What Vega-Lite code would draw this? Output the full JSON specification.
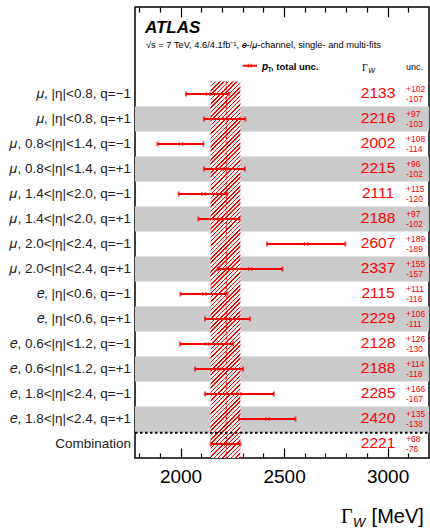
{
"$schema":"https://vega.github.io/schema/vega-lite/v6.json",
"width":294,"height":451,
"autosize":{"type":"none"},
"padding":{"left":135,"top":7,"right":1,"bottom":73},
"background":"white",
"config":{"view":{"stroke":"black","strokeWidth":1.5},"font":"Liberation Sans","axis":{"labelOverlap":false,"grid":false,"domain":false,"title":null,"tickColor":"black","tickWidth":1.2}},
"datasets":{
"rows":[
{"label":"𝜇, |η|<0.8, q=−1","row":1,"v":2133,"lo":2026,"hi":2235,"slo":2125,"shi":2141,"up":"+102","dn":"-107"},
{"label":"𝜇, |η|<0.8, q=+1","row":2,"v":2216,"lo":2113,"hi":2313,"slo":2208,"shi":2224,"up":"+97","dn":"-103"},
{"label":"𝜇, 0.8<|η|<1.4, q=−1","row":3,"v":2002,"lo":1888,"hi":2110,"slo":1994,"shi":2010,"up":"+108","dn":"-114"},
{"label":"𝜇, 0.8<|η|<1.4, q=+1","row":4,"v":2215,"lo":2113,"hi":2311,"slo":2207,"shi":2223,"up":"+96","dn":"-102"},
{"label":"𝜇, 1.4<|η|<2.0, q=−1","row":5,"v":2111,"lo":1991,"hi":2226,"slo":2103,"shi":2119,"up":"+115","dn":"-120"},
{"label":"𝜇, 1.4<|η|<2.0, q=+1","row":6,"v":2188,"lo":2086,"hi":2285,"slo":2180,"shi":2196,"up":"+97","dn":"-102"},
{"label":"𝜇, 2.0<|η|<2.4, q=−1","row":7,"v":2607,"lo":2418,"hi":2796,"slo":2599,"shi":2615,"up":"+189","dn":"-189"},
{"label":"𝜇, 2.0<|η|<2.4, q=+1","row":8,"v":2337,"lo":2180,"hi":2492,"slo":2329,"shi":2345,"up":"+155","dn":"-157"},
{"label":"𝑒, |η|<0.6, q=−1","row":9,"v":2115,"lo":1999,"hi":2226,"slo":2107,"shi":2123,"up":"+111","dn":"-116"},
{"label":"𝑒, |η|<0.6, q=+1","row":10,"v":2229,"lo":2118,"hi":2335,"slo":2221,"shi":2237,"up":"+106","dn":"-111"},
{"label":"𝑒, 0.6<|η|<1.2, q=−1","row":11,"v":2128,"lo":1998,"hi":2254,"slo":2120,"shi":2136,"up":"+126","dn":"-130"},
{"label":"𝑒, 0.6<|η|<1.2, q=+1","row":12,"v":2188,"lo":2070,"hi":2302,"slo":2180,"shi":2196,"up":"+114","dn":"-118"},
{"label":"𝑒, 1.8<|η|<2.4, q=−1","row":13,"v":2285,"lo":2118,"hi":2451,"slo":2277,"shi":2293,"up":"+166","dn":"-167"},
{"label":"𝑒, 1.8<|η|<2.4, q=+1","row":14,"v":2420,"lo":2282,"hi":2555,"slo":2412,"shi":2428,"up":"+135","dn":"-138"},
{"label":"Combination","row":15,"v":2221,"lo":2145,"hi":2289,"slo":2213,"shi":2229,"up":"+68","dn":"-76"}
],
"bands":[{"b0":1.5,"b1":2.5},{"b0":3.5,"b1":4.5},{"b0":5.5,"b1":6.5},{"b0":7.5,"b1":8.5},{"b0":9.5,"b1":10.5},{"b0":11.5,"b1":12.5},{"b0":13.5,"b1":14.55}]
},
"resolve":{"axis":{"x":"independent"}},
"layer":[
{"layer":[
{"data":{"name":"bands"},"mark":{"type":"rect","color":"#cacaca"},
 "encoding":{
  "x":{"datum":1780,"type":"quantitative","scale":{"domain":[1780,3200],"nice":false,"zero":false},"axis":null},
  "x2":{"datum":3200},
  "y":{"field":"b0","type":"quantitative","scale":{"domain":[-2.48,15.56],"reverse":true,"nice":false,"zero":false},"axis":null},
  "y2":{"field":"b1"}}},
{"data":{"values":[{}]},"mark":{"type":"rect","fill":{"gradient":"linear","x1":0,"y1":0,"x2":0.0849,"y2":1.0725,"stops":[
{"offset":0,"color":"#f00"},{"offset":0.0037,"color":"#f00"},{"offset":0.0037,"color":"#fff"},{"offset":0.0106,"color":"#fff"},
{"offset":0.0106,"color":"#f00"},{"offset":0.0143,"color":"#f00"},{"offset":0.0143,"color":"#fff"},{"offset":0.0212,"color":"#fff"},
{"offset":0.0212,"color":"#f00"},{"offset":0.0249,"color":"#f00"},{"offset":0.0249,"color":"#fff"},{"offset":0.0318,"color":"#fff"},
{"offset":0.0318,"color":"#f00"},{"offset":0.0355,"color":"#f00"},{"offset":0.0355,"color":"#fff"},{"offset":0.0424,"color":"#fff"},
{"offset":0.0424,"color":"#f00"},{"offset":0.0461,"color":"#f00"},{"offset":0.0461,"color":"#fff"},{"offset":0.053,"color":"#fff"},
{"offset":0.053,"color":"#f00"},{"offset":0.0567,"color":"#f00"},{"offset":0.0567,"color":"#fff"},{"offset":0.0636,"color":"#fff"},
{"offset":0.0636,"color":"#f00"},{"offset":0.0673,"color":"#f00"},{"offset":0.0673,"color":"#fff"},{"offset":0.0742,"color":"#fff"},
{"offset":0.0742,"color":"#f00"},{"offset":0.0779,"color":"#f00"},{"offset":0.0779,"color":"#fff"},{"offset":0.0848,"color":"#fff"},
{"offset":0.0848,"color":"#f00"},{"offset":0.0885,"color":"#f00"},{"offset":0.0885,"color":"#fff"},{"offset":0.0954,"color":"#fff"},
{"offset":0.0954,"color":"#f00"},{"offset":0.0991,"color":"#f00"},{"offset":0.0991,"color":"#fff"},{"offset":0.106,"color":"#fff"},
{"offset":0.106,"color":"#f00"},{"offset":0.1097,"color":"#f00"},{"offset":0.1097,"color":"#fff"},{"offset":0.1166,"color":"#fff"},
{"offset":0.1166,"color":"#f00"},{"offset":0.1203,"color":"#f00"},{"offset":0.1203,"color":"#fff"},{"offset":0.1272,"color":"#fff"},
{"offset":0.1272,"color":"#f00"},{"offset":0.1309,"color":"#f00"},{"offset":0.1309,"color":"#fff"},{"offset":0.1378,"color":"#fff"},
{"offset":0.1378,"color":"#f00"},{"offset":0.1415,"color":"#f00"},{"offset":0.1415,"color":"#fff"},{"offset":0.1484,"color":"#fff"},
{"offset":0.1484,"color":"#f00"},{"offset":0.1521,"color":"#f00"},{"offset":0.1521,"color":"#fff"},{"offset":0.159,"color":"#fff"},
{"offset":0.159,"color":"#f00"},{"offset":0.1627,"color":"#f00"},{"offset":0.1627,"color":"#fff"},{"offset":0.1696,"color":"#fff"},
{"offset":0.1696,"color":"#f00"},{"offset":0.1733,"color":"#f00"},{"offset":0.1733,"color":"#fff"},{"offset":0.1802,"color":"#fff"},
{"offset":0.1802,"color":"#f00"},{"offset":0.1839,"color":"#f00"},{"offset":0.1839,"color":"#fff"},{"offset":0.1908,"color":"#fff"},
{"offset":0.1908,"color":"#f00"},{"offset":0.1945,"color":"#f00"},{"offset":0.1945,"color":"#fff"},{"offset":0.2014,"color":"#fff"},
{"offset":0.2014,"color":"#f00"},{"offset":0.2051,"color":"#f00"},{"offset":0.2051,"color":"#fff"},{"offset":0.212,"color":"#fff"},
{"offset":0.212,"color":"#f00"},{"offset":0.2157,"color":"#f00"},{"offset":0.2157,"color":"#fff"},{"offset":0.2226,"color":"#fff"},
{"offset":0.2226,"color":"#f00"},{"offset":0.2263,"color":"#f00"},{"offset":0.2263,"color":"#fff"},{"offset":0.2332,"color":"#fff"},
{"offset":0.2332,"color":"#f00"},{"offset":0.2369,"color":"#f00"},{"offset":0.2369,"color":"#fff"},{"offset":0.2438,"color":"#fff"},
{"offset":0.2438,"color":"#f00"},{"offset":0.2475,"color":"#f00"},{"offset":0.2475,"color":"#fff"},{"offset":0.2544,"color":"#fff"},
{"offset":0.2544,"color":"#f00"},{"offset":0.2581,"color":"#f00"},{"offset":0.2581,"color":"#fff"},{"offset":0.265,"color":"#fff"},
{"offset":0.265,"color":"#f00"},{"offset":0.2687,"color":"#f00"},{"offset":0.2687,"color":"#fff"},{"offset":0.2756,"color":"#fff"},
{"offset":0.2756,"color":"#f00"},{"offset":0.2793,"color":"#f00"},{"offset":0.2793,"color":"#fff"},{"offset":0.2862,"color":"#fff"},
{"offset":0.2862,"color":"#f00"},{"offset":0.2899,"color":"#f00"},{"offset":0.2899,"color":"#fff"},{"offset":0.2968,"color":"#fff"},
{"offset":0.2968,"color":"#f00"},{"offset":0.3005,"color":"#f00"},{"offset":0.3005,"color":"#fff"},{"offset":0.3074,"color":"#fff"},
{"offset":0.3074,"color":"#f00"},{"offset":0.3111,"color":"#f00"},{"offset":0.3111,"color":"#fff"},{"offset":0.318,"color":"#fff"},
{"offset":0.318,"color":"#f00"},{"offset":0.3217,"color":"#f00"},{"offset":0.3217,"color":"#fff"},{"offset":0.3286,"color":"#fff"},
{"offset":0.3286,"color":"#f00"},{"offset":0.3323,"color":"#f00"},{"offset":0.3323,"color":"#fff"},{"offset":0.3392,"color":"#fff"},
{"offset":0.3392,"color":"#f00"},{"offset":0.3429,"color":"#f00"},{"offset":0.3429,"color":"#fff"},{"offset":0.3498,"color":"#fff"},
{"offset":0.3498,"color":"#f00"},{"offset":0.3535,"color":"#f00"},{"offset":0.3535,"color":"#fff"},{"offset":0.3604,"color":"#fff"},
{"offset":0.3604,"color":"#f00"},{"offset":0.3641,"color":"#f00"},{"offset":0.3641,"color":"#fff"},{"offset":0.371,"color":"#fff"},
{"offset":0.371,"color":"#f00"},{"offset":0.3747,"color":"#f00"},{"offset":0.3747,"color":"#fff"},{"offset":0.3816,"color":"#fff"},
{"offset":0.3816,"color":"#f00"},{"offset":0.3853,"color":"#f00"},{"offset":0.3853,"color":"#fff"},{"offset":0.3922,"color":"#fff"},
{"offset":0.3922,"color":"#f00"},{"offset":0.3959,"color":"#f00"},{"offset":0.3959,"color":"#fff"},{"offset":0.4028,"color":"#fff"},
{"offset":0.4028,"color":"#f00"},{"offset":0.4065,"color":"#f00"},{"offset":0.4065,"color":"#fff"},{"offset":0.4134,"color":"#fff"},
{"offset":0.4134,"color":"#f00"},{"offset":0.4171,"color":"#f00"},{"offset":0.4171,"color":"#fff"},{"offset":0.424,"color":"#fff"},
{"offset":0.424,"color":"#f00"},{"offset":0.4277,"color":"#f00"},{"offset":0.4277,"color":"#fff"},{"offset":0.4346,"color":"#fff"},
{"offset":0.4346,"color":"#f00"},{"offset":0.4383,"color":"#f00"},{"offset":0.4383,"color":"#fff"},{"offset":0.4452,"color":"#fff"},
{"offset":0.4452,"color":"#f00"},{"offset":0.4489,"color":"#f00"},{"offset":0.4489,"color":"#fff"},{"offset":0.4558,"color":"#fff"},
{"offset":0.4558,"color":"#f00"},{"offset":0.4595,"color":"#f00"},{"offset":0.4595,"color":"#fff"},{"offset":0.4664,"color":"#fff"},
{"offset":0.4664,"color":"#f00"},{"offset":0.4701,"color":"#f00"},{"offset":0.4701,"color":"#fff"},{"offset":0.477,"color":"#fff"},
{"offset":0.477,"color":"#f00"},{"offset":0.4807,"color":"#f00"},{"offset":0.4807,"color":"#fff"},{"offset":0.4876,"color":"#fff"},
{"offset":0.4876,"color":"#f00"},{"offset":0.4913,"color":"#f00"},{"offset":0.4913,"color":"#fff"},{"offset":0.4982,"color":"#fff"},
{"offset":0.4982,"color":"#f00"},{"offset":0.5019,"color":"#f00"},{"offset":0.5019,"color":"#fff"},{"offset":0.5088,"color":"#fff"},
{"offset":0.5088,"color":"#f00"},{"offset":0.5125,"color":"#f00"},{"offset":0.5125,"color":"#fff"},{"offset":0.5194,"color":"#fff"},
{"offset":0.5194,"color":"#f00"},{"offset":0.5231,"color":"#f00"},{"offset":0.5231,"color":"#fff"},{"offset":0.53,"color":"#fff"},
{"offset":0.53,"color":"#f00"},{"offset":0.5337,"color":"#f00"},{"offset":0.5337,"color":"#fff"},{"offset":0.5406,"color":"#fff"},
{"offset":0.5406,"color":"#f00"},{"offset":0.5443,"color":"#f00"},{"offset":0.5443,"color":"#fff"},{"offset":0.5512,"color":"#fff"},
{"offset":0.5512,"color":"#f00"},{"offset":0.5549,"color":"#f00"},{"offset":0.5549,"color":"#fff"},{"offset":0.5618,"color":"#fff"},
{"offset":0.5618,"color":"#f00"},{"offset":0.5655,"color":"#f00"},{"offset":0.5655,"color":"#fff"},{"offset":0.5724,"color":"#fff"},
{"offset":0.5724,"color":"#f00"},{"offset":0.5761,"color":"#f00"},{"offset":0.5761,"color":"#fff"},{"offset":0.583,"color":"#fff"},
{"offset":0.583,"color":"#f00"},{"offset":0.5867,"color":"#f00"},{"offset":0.5867,"color":"#fff"},{"offset":0.5936,"color":"#fff"},
{"offset":0.5936,"color":"#f00"},{"offset":0.5973,"color":"#f00"},{"offset":0.5973,"color":"#fff"},{"offset":0.6042,"color":"#fff"},
{"offset":0.6042,"color":"#f00"},{"offset":0.6079,"color":"#f00"},{"offset":0.6079,"color":"#fff"},{"offset":0.6148,"color":"#fff"},
{"offset":0.6148,"color":"#f00"},{"offset":0.6185,"color":"#f00"},{"offset":0.6185,"color":"#fff"},{"offset":0.6254,"color":"#fff"},
{"offset":0.6254,"color":"#f00"},{"offset":0.6291,"color":"#f00"},{"offset":0.6291,"color":"#fff"},{"offset":0.636,"color":"#fff"},
{"offset":0.636,"color":"#f00"},{"offset":0.6397,"color":"#f00"},{"offset":0.6397,"color":"#fff"},{"offset":0.6466,"color":"#fff"},
{"offset":0.6466,"color":"#f00"},{"offset":0.6503,"color":"#f00"},{"offset":0.6503,"color":"#fff"},{"offset":0.6572,"color":"#fff"},
{"offset":0.6572,"color":"#f00"},{"offset":0.6609,"color":"#f00"},{"offset":0.6609,"color":"#fff"},{"offset":0.6678,"color":"#fff"},
{"offset":0.6678,"color":"#f00"},{"offset":0.6715,"color":"#f00"},{"offset":0.6715,"color":"#fff"},{"offset":0.6784,"color":"#fff"},
{"offset":0.6784,"color":"#f00"},{"offset":0.6821,"color":"#f00"},{"offset":0.6821,"color":"#fff"},{"offset":0.689,"color":"#fff"},
{"offset":0.689,"color":"#f00"},{"offset":0.6927,"color":"#f00"},{"offset":0.6927,"color":"#fff"},{"offset":0.6996,"color":"#fff"},
{"offset":0.6996,"color":"#f00"},{"offset":0.7033,"color":"#f00"},{"offset":0.7033,"color":"#fff"},{"offset":0.7102,"color":"#fff"},
{"offset":0.7102,"color":"#f00"},{"offset":0.7139,"color":"#f00"},{"offset":0.7139,"color":"#fff"},{"offset":0.7208,"color":"#fff"},
{"offset":0.7208,"color":"#f00"},{"offset":0.7245,"color":"#f00"},{"offset":0.7245,"color":"#fff"},{"offset":0.7314,"color":"#fff"},
{"offset":0.7314,"color":"#f00"},{"offset":0.7351,"color":"#f00"},{"offset":0.7351,"color":"#fff"},{"offset":0.742,"color":"#fff"},
{"offset":0.742,"color":"#f00"},{"offset":0.7457,"color":"#f00"},{"offset":0.7457,"color":"#fff"},{"offset":0.7526,"color":"#fff"},
{"offset":0.7526,"color":"#f00"},{"offset":0.7563,"color":"#f00"},{"offset":0.7563,"color":"#fff"},{"offset":0.7632,"color":"#fff"},
{"offset":0.7632,"color":"#f00"},{"offset":0.7669,"color":"#f00"},{"offset":0.7669,"color":"#fff"},{"offset":0.7738,"color":"#fff"},
{"offset":0.7738,"color":"#f00"},{"offset":0.7775,"color":"#f00"},{"offset":0.7775,"color":"#fff"},{"offset":0.7844,"color":"#fff"},
{"offset":0.7844,"color":"#f00"},{"offset":0.7881,"color":"#f00"},{"offset":0.7881,"color":"#fff"},{"offset":0.795,"color":"#fff"},
{"offset":0.795,"color":"#f00"},{"offset":0.7987,"color":"#f00"},{"offset":0.7987,"color":"#fff"},{"offset":0.8056,"color":"#fff"},
{"offset":0.8056,"color":"#f00"},{"offset":0.8093,"color":"#f00"},{"offset":0.8093,"color":"#fff"},{"offset":0.8162,"color":"#fff"},
{"offset":0.8162,"color":"#f00"},{"offset":0.8199,"color":"#f00"},{"offset":0.8199,"color":"#fff"},{"offset":0.8268,"color":"#fff"},
{"offset":0.8268,"color":"#f00"},{"offset":0.8305,"color":"#f00"},{"offset":0.8305,"color":"#fff"},{"offset":0.8374,"color":"#fff"},
{"offset":0.8374,"color":"#f00"},{"offset":0.8411,"color":"#f00"},{"offset":0.8411,"color":"#fff"},{"offset":0.848,"color":"#fff"},
{"offset":0.848,"color":"#f00"},{"offset":0.8517,"color":"#f00"},{"offset":0.8517,"color":"#fff"},{"offset":0.8586,"color":"#fff"},
{"offset":0.8586,"color":"#f00"},{"offset":0.8623,"color":"#f00"},{"offset":0.8623,"color":"#fff"},{"offset":0.8692,"color":"#fff"},
{"offset":0.8692,"color":"#f00"},{"offset":0.8729,"color":"#f00"},{"offset":0.8729,"color":"#fff"},{"offset":0.8798,"color":"#fff"},
{"offset":0.8798,"color":"#f00"},{"offset":0.8835,"color":"#f00"},{"offset":0.8835,"color":"#fff"},{"offset":0.8904,"color":"#fff"},
{"offset":0.8904,"color":"#f00"},{"offset":0.8941,"color":"#f00"},{"offset":0.8941,"color":"#fff"},{"offset":0.901,"color":"#fff"},
{"offset":0.901,"color":"#f00"},{"offset":0.9047,"color":"#f00"},{"offset":0.9047,"color":"#fff"},{"offset":0.9116,"color":"#fff"},
{"offset":0.9116,"color":"#f00"},{"offset":0.9153,"color":"#f00"},{"offset":0.9153,"color":"#fff"},{"offset":0.9222,"color":"#fff"},
{"offset":0.9222,"color":"#f00"},{"offset":0.9259,"color":"#f00"},{"offset":0.9259,"color":"#fff"},{"offset":0.9328,"color":"#fff"},
{"offset":0.9328,"color":"#f00"},{"offset":0.9365,"color":"#f00"},{"offset":0.9365,"color":"#fff"},{"offset":0.9434,"color":"#fff"},
{"offset":0.9434,"color":"#f00"},{"offset":0.9471,"color":"#f00"},{"offset":0.9471,"color":"#fff"},{"offset":0.954,"color":"#fff"},
{"offset":0.954,"color":"#f00"},{"offset":0.9577,"color":"#f00"},{"offset":0.9577,"color":"#fff"},{"offset":0.9646,"color":"#fff"},
{"offset":0.9646,"color":"#f00"},{"offset":0.9683,"color":"#f00"},{"offset":0.9683,"color":"#fff"},{"offset":0.9752,"color":"#fff"},
{"offset":0.9752,"color":"#f00"},{"offset":0.9789,"color":"#f00"},{"offset":0.9789,"color":"#fff"},{"offset":0.9858,"color":"#fff"},
{"offset":0.9858,"color":"#f00"},{"offset":0.9895,"color":"#f00"},{"offset":0.9895,"color":"#fff"},{"offset":0.9964,"color":"#fff"},
{"offset":0.9964,"color":"#f00"},{"offset":1,"color":"#f00"}
]}},
 "encoding":{"x":{"datum":2145,"axis":null},"x2":{"datum":2289},"y":{"datum":0.5,"axis":null},"y2":{"datum":15.56}}},
{"data":{"values":[{}]},"mark":{"type":"rule","color":"#f00","strokeWidth":1,"strokeDash":[3,2]},
 "encoding":{"x":{"datum":2221,"axis":null},"y":{"datum":0.5,"axis":null},"y2":{"datum":15.56}}},
{"data":{"values":[{}]},"mark":{"type":"rule","color":"black","strokeWidth":2,"strokeDash":[2.5,2.5]},
 "encoding":{"y":{"datum":14.55,"axis":null},"x":{"datum":1780,"axis":null},"x2":{"datum":3200}}},
{"data":{"name":"rows"},"mark":{"type":"rule","color":"#f00","strokeWidth":2},
 "encoding":{"x":{"field":"lo","type":"quantitative","axis":null},"x2":{"field":"hi"},"y":{"field":"row","type":"quantitative","axis":null}}},
{"data":{"name":"rows"},"mark":{"type":"tick","orient":"vertical","color":"#f00","size":5,"thickness":2},
 "encoding":{"x":{"field":"lo","type":"quantitative","axis":null},"y":{"field":"row","type":"quantitative","axis":null}}},
{"data":{"name":"rows"},"mark":{"type":"tick","orient":"vertical","color":"#f00","size":5,"thickness":2},
 "encoding":{"x":{"field":"hi","type":"quantitative","axis":null},"y":{"field":"row","type":"quantitative","axis":null}}},
{"data":{"name":"rows"},"mark":{"type":"tick","orient":"vertical","color":"#f00","size":4,"thickness":1.3},
 "encoding":{"x":{"field":"slo","type":"quantitative","axis":null},"y":{"field":"row","type":"quantitative","axis":null}}},
{"data":{"name":"rows"},"mark":{"type":"tick","orient":"vertical","color":"#f00","size":4,"thickness":1.3},
 "encoding":{"x":{"field":"shi","type":"quantitative","axis":null},"y":{"field":"row","type":"quantitative","axis":null}}},
{"data":{"name":"rows"},"mark":{"type":"text","color":"#f00","fontSize":15.5,"align":"center","baseline":"middle","dy":-1},
 "encoding":{"x":{"datum":2954,"axis":null},"y":{"field":"row","type":"quantitative","axis":null},"text":{"field":"v","type":"nominal"}}},
{"data":{"name":"rows"},"mark":{"type":"text","color":"#f00","fontSize":8.5,"align":"left","baseline":"middle","dy":-4.6},
 "encoding":{"x":{"datum":3089,"axis":null},"y":{"field":"row","type":"quantitative","axis":null},"text":{"field":"up"}}},
{"data":{"name":"rows"},"mark":{"type":"text","color":"#f00","fontSize":8.5,"align":"left","baseline":"middle","dy":4.6},
 "encoding":{"x":{"datum":3089,"axis":null},"y":{"field":"row","type":"quantitative","axis":null},"text":{"field":"dn"}}},
{"data":{"name":"rows"},"mark":{"type":"text","color":"#222","fontSize":13.5,"align":"right","baseline":"middle"},
 "encoding":{"x":{"datum":1761,"axis":null},"y":{"field":"row","type":"quantitative","axis":null},"text":{"field":"label"}}},
{"data":{"values":[{}]},"mark":{"type":"text","text":"ATLAS","fontSize":17,"fontWeight":"bold","fontStyle":"italic","align":"left","baseline":"alphabetic"},
 "encoding":{"x":{"datum":1828,"axis":null},"y":{"datum":-1.44,"axis":null}}},
{"data":{"values":[{}]},"mark":{"type":"text","text":"√s = 7 TeV, 4.6/4.1fb⁻¹, 𝑒-/𝜇-channel, single- and multi-fits","fontSize":9.3,"align":"left","baseline":"alphabetic"},
 "encoding":{"x":{"datum":1833,"axis":null},"y":{"datum":-0.84,"axis":null}}},
{"data":{"values":[{}]},"mark":{"type":"rule","color":"#f00","strokeWidth":2},
 "encoding":{"x":{"datum":2301,"axis":null},"x2":{"datum":2369},"y":{"datum":-0.13,"axis":null}}},
{"data":{"values":[{}]},"mark":{"type":"tick","orient":"vertical","color":"#f00","size":4,"thickness":1.3},
 "encoding":{"x":{"datum":2328,"axis":null},"y":{"datum":-0.13,"axis":null}}},
{"data":{"values":[{}]},"mark":{"type":"tick","orient":"vertical","color":"#f00","size":4,"thickness":1.3},
 "encoding":{"x":{"datum":2342,"axis":null},"y":{"datum":-0.13,"axis":null}}},
{"data":{"values":[{}]},"mark":{"type":"text","text":"p","fontSize":10,"fontWeight":"bold","fontStyle":"italic","align":"left","baseline":"alphabetic"},
 "encoding":{"x":{"datum":2393,"axis":null},"y":{"datum":0.02,"axis":null}}},
{"data":{"values":[{}]},"mark":{"type":"text","text":"T","fontSize":6.5,"fontWeight":"bold","align":"left","baseline":"alphabetic","dy":2},
 "encoding":{"x":{"datum":2421,"axis":null},"y":{"datum":0.02,"axis":null}}},
{"data":{"values":[{}]},"mark":{"type":"text","text":", total unc.","fontSize":9.5,"fontWeight":"bold","align":"left","baseline":"alphabetic"},
 "encoding":{"x":{"datum":2437,"axis":null},"y":{"datum":0.02,"axis":null}}},
{"data":{"values":[{}]},"mark":{"type":"text","text":"Γ","font":"Liberation Serif","fontSize":10,"align":"left","baseline":"alphabetic"},
 "encoding":{"x":{"datum":2876,"axis":null},"y":{"datum":0.06,"axis":null}}},
{"data":{"values":[{}]},"mark":{"type":"text","text":"W","fontSize":7,"fontStyle":"italic","align":"left","baseline":"alphabetic","dy":2},
 "encoding":{"x":{"datum":2906,"axis":null},"y":{"datum":0.06,"axis":null}}},
{"data":{"values":[{}]},"mark":{"type":"text","text":"unc.","fontSize":9,"align":"left","baseline":"alphabetic"},
 "encoding":{"x":{"datum":3089,"axis":null},"y":{"datum":0.04,"axis":null}}},
{"data":{"values":[{}]},"mark":{"type":"text","text":"Γ","font":"Liberation Serif","fontSize":20,"align":"left","baseline":"alphabetic"},
 "encoding":{"x":{"datum":2775,"axis":null},"y":{"datum":18.16,"axis":null}}},
{"data":{"values":[{}]},"mark":{"type":"text","text":"W","fontSize":13,"fontStyle":"italic","align":"left","baseline":"alphabetic","dy":4},
 "encoding":{"x":{"datum":2833,"axis":null},"y":{"datum":18.16,"axis":null}}},
{"data":{"values":[{}]},"mark":{"type":"text","text":"[MeV]","fontSize":20,"align":"right","baseline":"alphabetic"},
 "encoding":{"x":{"datum":3175,"axis":null},"y":{"datum":18.16,"axis":null}}}
]},
{"data":{"values":[{}]},"mark":{"type":"rule","opacity":0},
 "encoding":{"x":{"datum":2000,"type":"quantitative",
   "axis":{"orient":"bottom","values":[2000,2500,3000],"format":"d","ticks":false,"labelFontSize":19,"labelColor":"black","labelPadding":9}}}},
{"data":{"values":[{}]},"mark":{"type":"rule","opacity":0},
 "encoding":{"x":{"datum":2000,"type":"quantitative",
   "axis":{"orient":"bottom","values":[2000,2500,3000],"labels":false,"tickSize":10,"offset":-10}}}},
{"data":{"values":[{}]},"mark":{"type":"rule","opacity":0},
 "encoding":{"x":{"datum":2000,"type":"quantitative",
   "axis":{"orient":"bottom","values":[1800,1900,2100,2200,2300,2400,2600,2700,2800,2900,3100],"labels":false,"tickSize":5,"offset":-5}}}},
{"data":{"values":[{}]},"mark":{"type":"rule","opacity":0},
 "encoding":{"x":{"datum":2000,"type":"quantitative",
   "axis":{"orient":"top","values":[2000,2500,3000],"labels":false,"tickSize":10,"offset":-10}}}},
{"data":{"values":[{}]},"mark":{"type":"rule","opacity":0},
 "encoding":{"x":{"datum":2000,"type":"quantitative",
   "axis":{"orient":"top","values":[1800,1900,2100,2200,2300,2400,2600,2700,2800,2900,3100],"labels":false,"tickSize":5,"offset":-5}}}}
]
}
